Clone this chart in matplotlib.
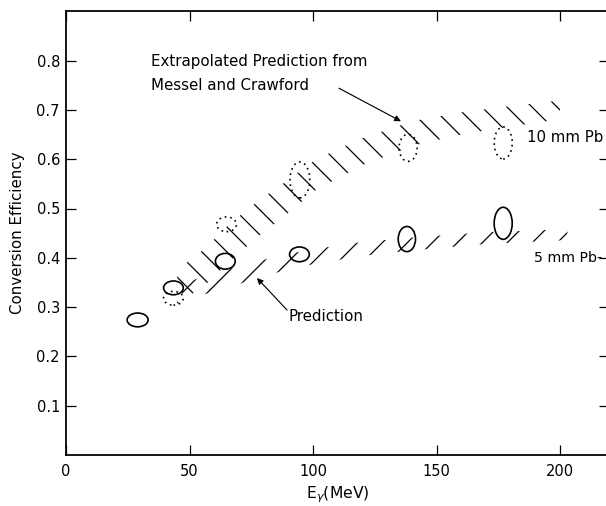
import numpy as np
import matplotlib.pyplot as plt
from matplotlib.patches import Ellipse

# measured conversion efficiency, 5 mm Pb (solid ellipses)
e_5mm = [29, 43.5, 64.5, 94.5, 138, 177]
eff_5mm = [0.274, 0.339, 0.393, 0.407, 0.438, 0.470]
de_5mm = [8.5, 8, 8, 8, 7, 7.3]          # ellipse extent in E (MeV)
deff_5mm = [0.028, 0.028, 0.032, 0.030, 0.051, 0.065]

# measured conversion efficiency, 10 mm Pb (dotted ellipses)
e_10mm = [43.5, 65, 94.7, 138.5, 177]
eff_10mm = [0.318, 0.468, 0.558, 0.623, 0.633]
de_10mm = [8, 8, 8, 7.3, 7.3]
deff_10mm = [0.028, 0.030, 0.073, 0.055, 0.065]

# extrapolated Messel & Crawford band (10 mm Pb)
mc_e = [45, 57, 66, 78, 88, 101, 120, 141, 160, 177, 200]
mc_lo = [0.305, 0.348, 0.392, 0.444, 0.483, 0.537, 0.588, 0.628, 0.650, 0.664, 0.681]
mc_hi = [0.375, 0.422, 0.468, 0.516, 0.551, 0.599, 0.643, 0.678, 0.695, 0.706, 0.719]

# prediction band (5 mm Pb)
pr_e = [47, 60, 72, 88, 101, 120, 140, 170, 203]
pr_lo = [0.312, 0.332, 0.350, 0.374, 0.388, 0.404, 0.415, 0.428, 0.436]
pr_hi = [0.348, 0.368, 0.386, 0.406, 0.418, 0.432, 0.441, 0.452, 0.458]

x_ticks = [0, 50, 100, 150, 200]
y_ticks = [0.1, 0.2, 0.3, 0.4, 0.5, 0.6, 0.7, 0.8]

plt.rcParams['font.family'] = ['DejaVu Sans']
plt.rcParams['hatch.linewidth'] = 0.6

fig = plt.figure(figsize=(606 / 150, 506 / 150), dpi=150)
# right spine sits just outside the picture, as in the scanned original
ax = fig.add_axes([66 / 606, 51 / 506, 543.4 / 606, 443.7 / 506])
ax.set_xlim(0, 220)
ax.set_ylim(0, 0.9)

# hatched theory bands
ax.fill_between(mc_e, mc_lo, mc_hi, facecolor='none', edgecolor='k',
                linewidth=0, hatch='\\\\')
ax.fill_between(pr_e, pr_lo, pr_hi, facecolor='none', edgecolor='k',
                linewidth=0, hatch='//')

# data points as ellipses
for x, y, w, h in zip(e_5mm, eff_5mm, de_5mm, deff_5mm):
    ax.add_patch(Ellipse((x, y), w, h, facecolor='none', edgecolor='k',
                         linewidth=0.8, zorder=3))
for x, y, w, h in zip(e_10mm, eff_10mm, de_10mm, deff_10mm):
    ax.add_patch(Ellipse((x, y), w, h, facecolor='none', edgecolor='k',
                         linewidth=0.8, linestyle=(0, (1, 2.3)), zorder=3))

# annotations
txt = dict(fontsize=7.2, color='k', va='center', ha='left')
ax.text(34.4, 0.799, 'Extrapolated Prediction from', **txt)
ax.text(34.4, 0.750, 'Messel and Crawford', **txt)
ax.annotate('', xy=(135.6, 0.677), xytext=(110.5, 0.744),
            arrowprops=dict(arrowstyle='-|>', lw=0.55, color='k',
                            mutation_scale=6, shrinkA=0, shrinkB=0))
ax.text(186.6, 0.645, '10 mm Pb', clip_on=False, **txt)
ax.text(189.5, 0.400, '5 mm Pb-', clip_on=False,
        **{**txt, 'fontsize': 6.8})
ax.text(89.9, 0.280, 'Prediction', **txt)
ax.annotate('', xy=(77.3, 0.359), xytext=(89.5, 0.294),
            arrowprops=dict(arrowstyle='-|>', lw=0.55, color='k',
                            mutation_scale=6, shrinkA=0, shrinkB=0))

# axes styling
ax.set_xticks(x_ticks)
ax.set_xticklabels([str(t) for t in x_ticks])
ax.set_yticks(y_ticks)
ax.set_yticklabels(['%.1f' % t for t in y_ticks])
ax.tick_params(direction='in', top=True, right=True, length=4.6, width=0.6,
               labelsize=7)
ax.tick_params(axis='x', pad=4.3)
ax.tick_params(axis='y', pad=2.9)
for s in ax.spines.values():
    s.set_linewidth(0.85)

ax.set_xlabel(r'E$_\gamma$(MeV)', fontsize=7.5)
ax.set_ylabel('Conversion Efficiency', fontsize=7.2)
ax.xaxis.set_label_coords(0.5, -0.066)
ax.yaxis.set_label_coords(-0.076, 0.5)

fig.savefig('out.png', dpi=150)
